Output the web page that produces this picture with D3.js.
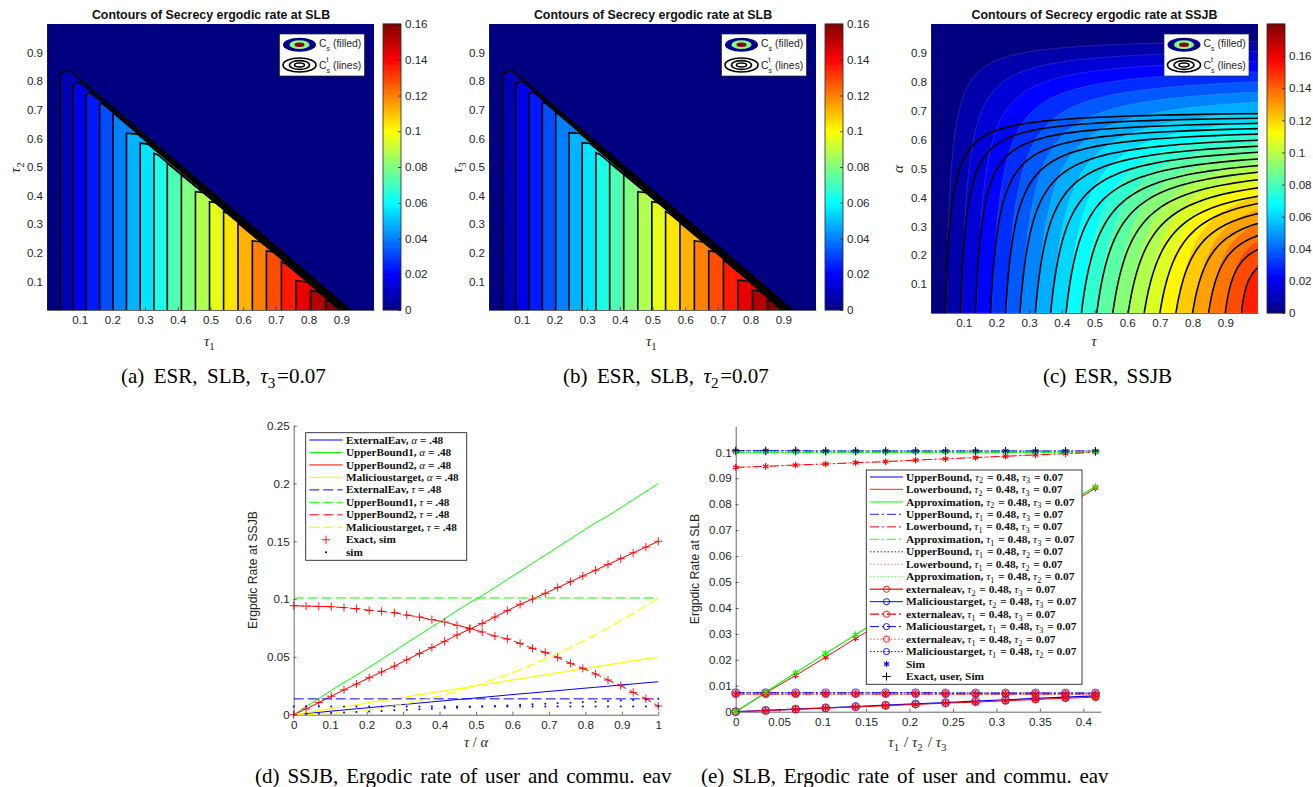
<!DOCTYPE html>
<html>
<head>
<meta charset="utf-8">
<script src="https://cdn.jsdelivr.net/npm/d3@7"></script>
<style>
  body { margin: 0; background: #fff; }
  text { font-family: "Liberation Sans", sans-serif; fill: #262626; }
</style>
</head>
<body>
<div id="fig"></div>
<script>
// (a) contour cuts read on the tau1 axis
var aCut = [.04,.08,.12,.161,.202,.243,.285,.327,.368,.411,.454,.497,.54,.584,.628,.671,.717,.761,.806,.852];
var aTop = [.827,.79,.755,.72,.685,.618,.583,.548,.513,.478,.414,.379,.344,.305,.242,.207,.169,.103,.068,.033];
var aPeakX = [.068,.101,.133,.169,.207,.277,.309,.339,.374,.414,.488,.521,.552,.59,.662,.695,.729,.795,.83,.864];
var aPeakY = [.839,.796,.76,.722,.685,.615,.58,.542,.507,.471,.409,.374,.337,.298,.237,.202,.162,.098,.063,.03];
var aEnd = [.929,.927,.926,.924,.922,.921,.919,.917,.915,.914,.912,.91,.909,.907,.905,.903,.902,.9,.898,.896];
var aLevels = [.008,.016,.024,.032,.04,.048,.056,.064,.072,.08,.088,.096,.104,.112,.12,.128,.136,.144,.152,.16];
// (b)
var bCut = [.041,.082,.122,.163,.204,.245,.285,.327,.369,.412,.455,.498,.54,.584,.628,.672,.717,.761,.806,.852];
var bTop = [.825,.793,.758,.723,.688,.62,.585,.55,.515,.48,.414,.379,.344,.306,.242,.207,.172,.105,.07,.035];
var bPeakX = [.069,.103,.135,.171,.209,.279,.309,.339,.375,.415,.489,.522,.552,.59,.662,.696,.729,.795,.83,.864];
var bPeakY = [.839,.799,.763,.725,.688,.617,.582,.544,.509,.473,.409,.374,.337,.299,.237,.202,.165,.1,.065,.032];
var bEnd = aEnd;
// (c) black line family: cut on tau axis, cut on right edge, knee bend
var cCut = [.044,.09,.136,.182,.228,.272,.319,.366,.413,.46,.507,.556,.603,.652,.7,.749,.8,.849,.9,.95];
var cEdge = [.69,.674,.656,.638,.619,.598,.577,.556,.533,.51,.487,.461,.433,.404,.379,.344,.31,.268,.22,.155];
var cBend = [.0175,.02,.023,.028,.033,.04,.045,.05,.055,.06,.062,.065,.068,.068,.065,.06,.055,.045,.032,.019];
// (c) filled family
var fillEdge = [.94,.905,.87,.835,.8,.765,.73,.695,.66,.625,.59,.555,.52,.485,.445,.405,.36,.31,.25,.17];
var fillBend = [.014,.02,.025,.03,.035,.04,.045,.05,.055,.06,.062,.065,.068,.068,.065,.06,.055,.045,.032,.02];
var cLevels = [.0076,.0152,.0228,.0304,.038,.0456,.0532,.0608,.0684,.076,.0836,.0912,.0988,.1064,.114,.1216,.1292,.1368,.1444,.152];

// (d)
var tauD = [0,.034,.069,.103,.138,.172,.207,.241,.276,.31,.345,.379,.414,.448,.483,.517,.552,.586,.621,.655,.69,.724,.759,.793,.828,.862,.897,.931,.966,1];
var ub1Alpha = [0,.007,.014,.021,.028,.034,.041,.048,.055,.062,.069,.076,.083,.09,.097,.103,.11,.117,.124,.131,.138,.145,.152,.159,.166,.172,.179,.186,.193,.2];
var ub2Alpha = [0,.005,.0105,.016,.0215,.0265,.032,.037,.042,.0475,.053,.058,.0635,.069,.074,.079,.0845,.09,.0955,.1,.105,.11,.115,.12,.125,.13,.135,.14,.145,.15];
var malAlpha = [0,.0017,.0035,.0052,.0069,.0086,.0104,.0121,.0138,.0155,.0173,.019,.0207,.0224,.0242,.0259,.0276,.0293,.031,.0328,.0345,.0362,.038,.0397,.0414,.0431,.0449,.0466,.0483,.0495];
var extAlpha = [0,.001,.002,.0031,.0041,.0051,.0061,.0071,.0081,.0091,.0101,.0111,.0121,.0131,.014,.015,.016,.017,.018,.0189,.0199,.0208,.0218,.0228,.0237,.0247,.0257,.0266,.0276,.0285];
var ub2Tau = [.0943,.094,.0937,.0934,.0926,.0917,.0903,.0894,.0882,.0862,.0845,.0822,.0802,.0773,.0747,.0715,.068,.0655,.0617,.0574,.0539,.0496,.0444,.0401,.0352,.03,.0251,.0193,.0138,.0075];
var malTau = [0,.0001,.0005,.0011,.0019,.003,.0043,.0059,.0077,.0097,.012,.0145,.0173,.0203,.0236,.027,.0308,.0347,.039,.0433,.0481,.0529,.0582,.0635,.0692,.075,.0813,.0875,.0942,.101];
var extTau = tauD.map(function(){ return .0137; });
var ub1Tau = tauD.map(function(){ return .101; });
var simFlat = [.0072,.0071,.0072,.0071,.0072,.0072,.0071,.0072,.0071,.0072,.0071,.0072,.0072,.0071,.0072,.0072,.0071,.0072,.0071,.0072,.0072,.0071,.0072,.0071,.0072,.0072,.0071,.0072,.0071,.0072];
var simRise = [0,.0005,.0009,.0014,.0019,.0024,.0028,.0033,.0038,.0042,.0047,.0052,.0057,.0061,.0066,.0071,.0076,.008,.0085,.009,.0094,.0099,.0104,.0109,.0113,.0118,.0123,.0128,.0132,.0137];
var legendD = ["ExternalEav, α = .48","UpperBound1, α = .48","UpperBound2, α = .48","Malicioustarget, α = .48","ExternalEav, τ = .48","UpperBound1, τ = .48","UpperBound2, τ = .48","Malicioustarget, τ = .48","Exact, sim","sim"];

// (e)
var tauE = [0,.0345,.069,.1035,.138,.1725,.207,.2415,.276,.3105,.345,.3795,.414];
var approxRise = [0,.0075,.015,.0225,.0297,.037,.0445,.052,.0595,.0665,.0725,.08,.0868];
var lowerRise = [0,.0072,.014,.021,.0283,.035,.0425,.05,.057,.064,.0715,.079,.0862];
var upperFlat = [.1006,.1006,.1006,.1005,.1005,.1005,.1005,.1005,.1005,.1005,.1005,.1005,.1005];
var approxFlat = [.1,.1,.1,.1,.1,.1,.1,.1,.1,.1,.1,.1,.1002];
var lowerFlat = [.0942,.0946,.0951,.0955,.096,.0964,.097,.0975,.098,.0985,.099,.0995,.1];
var malFlat = [.0073,.0073,.0073,.0073,.0073,.0073,.0073,.0072,.0072,.0072,.0072,.0072,.0072];
var extFlat = [.0068,.0068,.0068,.0068,.0068,.0068,.0068,.0068,.0068,.0068,.0068,.0068,.0068];
var malRise = [0,.0005,.001,.0015,.002,.0025,.003,.0035,.0041,.0046,.0051,.0056,.0061];
var extRise = [0,.0004,.0009,.0014,.0018,.0023,.0028,.0033,.0037,.0042,.0047,.0052,.0056];
var legendE = ["UpperBound, τ_2 = 0.48, τ_3 = 0.07","Lowerbound, τ_2 = 0.48, τ_3 = 0.07","Approximation, τ_2 = 0.48, τ_3 = 0.07",
  "UpperBound, τ_1 = 0.48, τ_3 = 0.07","Lowerbound, τ_1 = 0.48, τ_3 = 0.07","Approximation, τ_1 = 0.48, τ_3 = 0.07",
  "UpperBound, τ_1 = 0.48, τ_2 = 0.07","Lowerbound, τ_1 = 0.48, τ_2 = 0.07","Approximation, τ_1 = 0.48, τ_2 = 0.07",
  "externaleav, τ_2 = 0.48, τ_3 = 0.07","Malicioustarget, τ_2 = 0.48, τ_3 = 0.07","externaleav, τ_1 = 0.48, τ_3 = 0.07",
  "Malicioustarget, τ_1 = 0.48, τ_3 = 0.07","externaleav, τ_1 = 0.48, τ_2 = 0.07","Malicioustarget, τ_1 = 0.48, τ_2 = 0.07","Sim","Exact, user, Sim"];

var BLUE = "#0000ff", RED = "#ff0000", GREEN = "#00ff00", YELLOW = "#ffff00";
var DASH = "10,4", DASHDOT = "9,3,2,3", DOT = "1.5,2";
var TICK_FONT = "11.6px";

var jet = d3.scaleLinear()
  .domain([0, .125, .375, .625, .875, 1])
  .range(["#000080", "#0000ff", "#00ffff", "#ffff00", "#ff0000", "#800000"])
  .clamp(true);

var svg = d3.select("#fig").append("svg")
  .attr("width", 1313)
  .attr("height", 787)
  .style("display", "block");

var clipId = 0;

// mixed text: greek goes italic, "_n" goes down a bit
function richText(sel, str, size, weight) {
  var parts = str.split(/(τ_\d|τ|α)/).filter(function(d){ return d !== ""; });
  parts.forEach(function(p) {
    var greek = p[0] == "τ" || p[0] == "α";
    sel.append("tspan")
      .style("font-style", greek ? "italic" : "normal")
      .style("font-weight", greek ? "normal" : weight)
      .text(greek ? p[0] : p);
    if (p[1] == "_") {
      sel.append("tspan")
        .attr("dy", size * .25)
        .style("font-size", (size * .72) + "px")
        .text(p[2]);
      sel.append("tspan").attr("dy", -size * .25).text("\u200a");
    }
  });
}

function plotAxes(g, x, y, xt, yt) {
  var bottom = g.append("g")
    .attr("transform", "translate(0," + y.range()[0] + ")")
    .call(d3.axisBottom(x).tickValues(xt).tickSizeInner(-3).tickSizeOuter(0).tickPadding(6).tickFormat(d3.format("~g")));
  var left = g.append("g")
    .attr("transform", "translate(" + x.range()[0] + ",0)")
    .call(d3.axisLeft(y).tickValues(yt).tickSizeInner(-3).tickSizeOuter(0).tickPadding(4).tickFormat(d3.format("~g")));
  [bottom, left].forEach(function(a) {
    a.selectAll("text").style("font-size", TICK_FONT).style("font-family", "Liberation Sans").attr("fill", "#262626");
    a.selectAll("line,path").attr("stroke", "#262626").attr("stroke-width", .7);
  });
}

function clipped(g, x, y) {
  var id = "clip" + (clipId++);
  g.append("clipPath").attr("id", id).append("rect")
    .attr("x", x.range()[0]).attr("y", y.range()[1])
    .attr("width", x.range()[1] - x.range()[0])
    .attr("height", y.range()[0] - y.range()[1]);
  return g.append("g").attr("clip-path", "url(#" + id + ")");
}

function colorbar(x0, y0, y1, maxV) {
  var w = 18, g = svg.append("g");
  var s = d3.scaleLinear().domain([0, maxV]).range([y1, y0]);
  g.selectAll("rect.c").data(d3.range(128)).enter().append("rect")
    .attr("x", x0)
    .attr("y", function(i){ return s((i + 1) / 128 * maxV) - .3; })
    .attr("width", w)
    .attr("height", (y1 - y0) / 128 + .6)
    .attr("fill", function(i){ return jet((i + .5) / 128); });
  g.append("rect").attr("x", x0).attr("y", y0).attr("width", w).attr("height", y1 - y0)
    .attr("fill", "none").attr("stroke", "#262626").attr("stroke-width", .8);
  var ax = g.append("g").attr("transform", "translate(" + (x0 + w) + ",0)")
    .call(d3.axisRight(s).tickValues([0,.02,.04,.06,.08,.1,.12,.14,.16]).tickSizeInner(-3).tickSizeOuter(0).tickPadding(4).tickFormat(d3.format("~g")));
  ax.select("path").remove();
  ax.selectAll("line").attr("stroke", "#262626").attr("stroke-width", .8);
  ax.selectAll("text").style("font-size", TICK_FONT).style("font-family", "Liberation Sans").attr("fill", "#262626");
}

function contourKey(x0) {
  var g = svg.append("g").attr("transform", "translate(" + x0 + ",34)");
  g.append("rect").attr("width", 85).attr("height", 42).attr("fill", "#fff").attr("stroke", "#262626").attr("stroke-width", .7);
  [[16.5, 7, "#00008c"], [10, 4.4, "#80ff80"], [5, 2.2, "#8c0000"]].forEach(function(e) {
    g.append("ellipse").attr("cx", 20).attr("cy", 10.7).attr("rx", e[0]).attr("ry", e[1]).attr("fill", e[2]);
  });
  [[16.5, 7], [10, 4.4], [5, 2]].forEach(function(e) {
    g.append("ellipse").attr("cx", 20).attr("cy", 31).attr("rx", e[0]).attr("ry", e[1]).attr("fill", "none").attr("stroke", "#000").attr("stroke-width", 1.6);
  });
  var a = g.append("text").attr("x", 39.5).attr("y", 13).style("font-size", "10.4px");
  a.append("tspan").text("C");
  a.append("tspan").attr("dy", 4).style("font-size", "7px").text("s");
  a.append("tspan").attr("dy", -4).attr("dx", 3).text("(filled)");
  var b = g.append("text").attr("x", 39.5).attr("y", 35).style("font-size", "10.4px");
  b.append("tspan").text("C");
  b.append("tspan").attr("dy", 4).style("font-size", "7px").text("s");
  b.append("tspan").attr("dy", -4).attr("dx", 3).text("(lines)");
  g.append("text").attr("x", 47).attr("y", 27.5).style("font-size", "7px").text("t");
}

function panelTitle(cx, str) {
  svg.append("text").attr("x", cx).attr("y", 19).attr("text-anchor", "middle")
    .style("font-size", "12.4px").style("font-weight", "bold").style("fill", "#111").text(str);
}

function mathLabel(x, y, str, size, rot) {
  var t = svg.append("text").attr("text-anchor", "middle")
    .attr("transform", "translate(" + x + "," + y + ")" + (rot ? " rotate(-90)" : ""))
    .style("font-family", "Liberation Serif").style("font-size", size + "px");
  richText(t, str, size, "normal");
}

function caption(at, str, gap) {
  var size = 21;
  var t = svg.append("text").attr("x", at[0]).attr("y", at[1])
    .style("font-family", "Liberation Serif").style("font-size", size + "px")
    .style("fill", "#000").style("word-spacing", gap + "px");
  richText(t, str, size, "normal");
}

function trianglePanel(x0, cut, top, peakX, peakY, end, xl, yl, title, captionAt, captionStr) {
  var g = svg.append("g");
  var x = d3.scaleLinear().domain([0, 1]).range([x0, x0 + 327]);
  var y = d3.scaleLinear().domain([0, 1]).range([310, 24]);
  var c = clipped(g, x, y);
  c.append("rect").attr("x", x0).attr("y", 24).attr("width", 327).attr("height", 286).attr("fill", jet(0));
  var line = d3.line().x(function(d){ return x(d[0]); }).y(function(d){ return y(d[1]); });
  var paths = cut.map(function(d, i) {
    return [[d, -.02], [d, top[i]], [peakX[i], peakY[i]], [end[i], 0], [end[i], -.02]];
  });
  c.selectAll("path.f").data(paths).enter().append("path")
    .attr("d", function(d){ return line(d) + "Z"; })
    .attr("fill", function(d, i){ return jet(aLevels[i] / .16); });
  c.selectAll("path.s").data(paths).enter().append("path")
    .attr("d", function(d){ return line(d); })
    .attr("fill", "none").attr("stroke", "#000").attr("stroke-width", 1.6);
  var t = d3.range(1, 10).map(function(d){ return d / 10; });
  plotAxes(g, x, y, t, t);
  colorbar(x0 + 336, 24, 310, .16);
  contourKey(x0 + 232.5);
  panelTitle(x0 + 164, title);
  mathLabel(x0 + 163, 346, xl, 15);
  mathLabel(x0 - 27, 167, yl, 15, true);
  caption(captionAt, captionStr, 4.2);
}

trianglePanel(47, aCut, aTop, aPeakX, aPeakY, aEnd, "τ_1", "τ_2", "Contours of Secrecy ergodic rate at SLB", [121, 383], "(a) ESR, SLB, τ_3=0.07");
trianglePanel(489, bCut, bTop, bPeakX, bPeakY, bEnd, "τ_1", "τ_3", "Contours of Secrecy ergodic rate at SLB", [563, 383], "(b) ESR, SLB, τ_2=0.07");

// (c)
(function() {
  var g = svg.append("g");
  var x = d3.scaleLinear().domain([0, 1]).range([931, 1258]);
  var y = d3.scaleLinear().domain([0, 1]).range([313, 24]);
  var c = clipped(g, x, y);
  c.append("rect").attr("x", 931).attr("y", 24).attr("width", 327).attr("height", 289).attr("fill", jet(0));
  var line = d3.line().x(function(d){ return x(d[0]); }).y(function(d){ return y(d[1]); });
  function knee(cut, edge, bend) {
    var A = edge * (1 - cut + bend) / (1 - cut);
    return d3.range(0, 51).map(function(s) {
      var u = (1 - cut) * Math.pow(s / 50, 3);
      return [cut + u, A * u / (u + bend)];
    });
  }
  var fills = fillEdge.map(function(d, i){ return knee(cCut[i] + .003, d, fillBend[i]); });
  c.selectAll("path.f").data(fills).enter().append("path")
    .attr("d", function(d){ return line(d.concat([[1, 0]])) + "Z"; })
    .attr("fill", function(d, i){ return jet(cLevels[i] / .18); })
    .attr("stroke", "#fff").attr("stroke-opacity", .25).attr("stroke-width", .5);
  var lines = cCut.map(function(d, i){ return knee(d, cEdge[i], cBend[i]); });
  c.selectAll("path.s").data(lines).enter().append("path")
    .attr("d", line).attr("fill", "none").attr("stroke", "#000").attr("stroke-width", 1.6);
  var t = d3.range(1, 10).map(function(d){ return d / 10; });
  plotAxes(g, x, y, t, t);
  colorbar(1267, 24, 313, .18);
  contourKey(1164);
  panelTitle(1094.5, "Contours of Secrecy ergodic rate at SSJB");
  mathLabel(1094, 346, "τ", 15);
  mathLabel(903, 169, "α", 15, true);
  caption([1043, 383], "(c) ESR, SSJB", 3);
})();

function legendBox(x0, y0, w, h, rows, rowY, textX, labels, size) {
  var g = svg.append("g").attr("transform", "translate(" + x0 + "," + y0 + ")");
  g.append("rect").attr("width", w).attr("height", h).attr("fill", "#fff").attr("stroke", "#262626").attr("stroke-width", .9);
  labels.forEach(function(str, i) {
    var t = g.append("text").attr("x", textX).attr("y", rowY + i * rows + 3.6)
      .style("font-family", "Liberation Serif").style("font-size", size + "px").style("fill", "#111");
    richText(t, str, size, "bold");
  });
  return g;
}

function legendKey(g, i, rowY, rows, lineX, lineW, s) {
  var yy = rowY + i * rows;
  if (s.color2 !== undefined) {
    g.append("path").attr("d", d3.symbol(s.sym, s.size)()).attr("transform", "translate(" + (lineX + lineW / 2) + "," + yy + ")")
      .attr("fill", s.fill || "none").attr("stroke", s.color2).attr("stroke-width", .9);
  }
  if (s.color) {
    g.append("line").attr("x1", lineX).attr("x2", lineX + lineW).attr("y1", yy).attr("y2", yy)
      .attr("stroke", s.color).attr("stroke-width", s.w || 1).attr("stroke-dasharray", s.dash || null).attr("stroke-opacity", s.o || 1);
  }
}

// (d)
(function() {
  var g = svg.append("g");
  var x = d3.scaleLinear().domain([0, 1]).range([293.7, 658.3]);
  var y = d3.scaleLinear().domain([0, .25]).range([714.7, 425.7]);
  var line = d3.line().x(function(d){ return x(d[0]); }).y(function(d){ return y(d[1]); });
  plotAxes(g, x, y, d3.range(0, 11).map(function(d){ return d / 10; }), [0, .05, .1, .15, .2, .25]);
  var series = [
    [extAlpha, BLUE, null], [ub1Alpha, GREEN, null], [ub2Alpha, RED, null], [malAlpha, YELLOW, null],
    [extTau, BLUE, DASH], [ub1Tau, GREEN, DASH], [ub2Tau, RED, DASH], [malTau, YELLOW, DASH]
  ];
  series.forEach(function(s) {
    g.append("path").datum(d3.zip(tauD, s[0])).attr("d", line).attr("fill", "none")
      .attr("stroke", s[1]).attr("stroke-width", s[1] == YELLOW ? 1.2 : 1).attr("stroke-dasharray", s[2]);
  });
  [ub2Alpha, ub2Tau].forEach(function(v) {
    g.selectAll(null).data(d3.zip(tauD, v)).enter().append("path")
      .attr("d", d3.symbol(d3.symbolPlus, 24)())
      .attr("transform", function(d){ return "translate(" + x(d[0]) + "," + y(d[1]) + ")"; })
      .attr("fill", "none").attr("stroke", RED).attr("stroke-width", .9);
  });
  [simFlat, simRise].forEach(function(v) {
    g.selectAll(null).data(d3.zip(tauD, v)).enter().append("circle")
      .attr("cx", function(d){ return x(d[0]); }).attr("cy", function(d){ return y(d[1]); })
      .attr("r", 1).attr("fill", BLUE);
  });
  var lg = legendBox(305.7, 432.7, 161, 127.6, 12.47, 7.3, 40.3, legendD, 11.2);
  series.forEach(function(s, i) {
    legendKey(lg, i, 7.3, 12.47, 3.6, 33.4, {color: s[1], dash: s[2], w: s[1] == YELLOW ? 1.2 : 1});
  });
  lg.append("path").attr("d", d3.symbol(d3.symbolPlus, 24)()).attr("transform", "translate(20.3," + (7.3 + 8 * 12.47) + ")").attr("fill", "none").attr("stroke", RED).attr("stroke-width", .9);
  lg.append("circle").attr("cx", 20.3).attr("cy", 7.3 + 9 * 12.47).attr("r", 1.1).attr("fill", BLUE);
  svg.append("text").attr("text-anchor", "middle").attr("transform", "translate(257,570) rotate(-90)").style("font-size", "12.2px").text("Ergpdic Rate at SSJB");
  mathLabel(476, 747, "τ / α", 14.5);
  caption([255, 783], "(d) SSJB, Ergodic rate of user and commu. eav", 2.7);
})();

// (e)
(function() {
  var g = svg.append("g");
  var x = d3.scaleLinear().domain([0, .42]).range([735.7, 1100.7]);
  var y = d3.scaleLinear().domain([0, .11]).range([711.7, 426.4]);
  var line = d3.line().x(function(d){ return x(d[0]); }).y(function(d){ return y(d[1]); });
  plotAxes(g, x, y, d3.range(0, 9).map(function(d){ return d * .05; }), d3.range(0, 11).map(function(d){ return d / 100; }));
  var series = [
    [malFlat, BLUE, DOT, 1], [extFlat, RED, DOT, 1],
    [upperFlat, BLUE, DOT, 1], [lowerFlat, RED, DOT, .6], [approxFlat, GREEN, DOT, 1],
    [malRise, BLUE, null, 1.2], [extRise, RED, null, 1],
    [lowerRise, RED, null, 1], [approxRise, GREEN, null, 1.1],
    [upperFlat, BLUE, DASHDOT, 1.1], [approxFlat, GREEN, DASHDOT, 1.1], [lowerFlat, RED, DASHDOT, 1],
    [malFlat, BLUE, DASHDOT, 1.2], [extFlat, RED, DASHDOT, 1]
  ];
  series.forEach(function(s) {
    g.append("path").datum(d3.zip(tauE, s[0])).attr("d", line).attr("fill", "none")
      .attr("stroke", s[1]).attr("stroke-width", s[3]).attr("stroke-dasharray", s[2]);
  });
  function marks(v, sym, size, color, w) {
    g.selectAll(null).data(d3.zip(tauE, v)).enter().append("path")
      .attr("d", d3.symbol(sym, size)())
      .attr("transform", function(d){ return "translate(" + x(d[0]) + "," + y(d[1]) + ")"; })
      .attr("fill", "none").attr("stroke", color).attr("stroke-width", w || .9);
  }
  marks(malFlat, d3.symbolCircle, 50, "#2a2aff");
  marks(malRise, d3.symbolCircle, 50, "#2a2aff");
  marks(extFlat, d3.symbolCircle, 40, RED);
  marks(extRise, d3.symbolCircle, 40, RED);
  marks(extFlat, d3.symbolAsterisk, 30, RED, 1.3);
  marks(extRise, d3.symbolAsterisk, 30, RED, 1.3);
  marks(lowerRise, d3.symbolAsterisk, 30, RED, 1.2);
  marks(lowerFlat, d3.symbolAsterisk, 30, RED, 1.2);
  marks(approxRise, d3.symbolAsterisk, 30, GREEN, 1.2);
  marks(upperFlat, d3.symbolAsterisk, 30, BLUE, 1.2);
  marks(approxFlat, d3.symbolAsterisk, 30, GREEN, 1.2);
  marks(upperFlat, d3.symbolPlus, 24, "#000");
  var lg = legendBox(866.3, 470, 215.7, 214.3, 12.47, 7, 39.7, legendE, 11.4);
  var keys = [
    {color: BLUE, w: 1}, {color: RED, w: 1.3, o: .7}, {color: GREEN, w: 1},
    {color: BLUE, dash: DASHDOT, w: 1.3, o: .7}, {color: RED, dash: DASHDOT, w: 1}, {color: GREEN, dash: DASHDOT, w: 1.3, o: .7},
    {color: BLUE, dash: DOT, w: .9}, {color: RED, dash: DOT, w: 1, o: .5}, {color: GREEN, dash: DOT, w: .9, o: .8},
    {color: RED, w: 1.3, o: .8, sym: d3.symbolCircle, size: 30, color2: RED}, {color: BLUE, w: 1, sym: d3.symbolCircle, size: 30, color2: BLUE},
    {color: RED, dash: DASHDOT, w: 1.1, sym: d3.symbolCircle, size: 30, color2: RED}, {color: BLUE, dash: DASHDOT, w: 1, sym: d3.symbolCircle, size: 30, color2: BLUE},
    {color: RED, dash: DOT, w: 1, o: .7, sym: d3.symbolCircle, size: 30, color2: RED}, {color: BLUE, dash: DOT, w: 1, sym: d3.symbolCircle, size: 30, color2: BLUE}
  ];
  keys.forEach(function(k, i) { legendKey(lg, i, 7, 12.47, 3.7, 33, k); });
  lg.append("path").attr("d", d3.symbol(d3.symbolAsterisk, 26)()).attr("transform", "translate(20.2," + (7 + 15 * 12.47) + ")").attr("fill", "none").attr("stroke", BLUE).attr("stroke-width", 1.2);
  lg.append("path").attr("d", d3.symbol(d3.symbolPlus, 24)()).attr("transform", "translate(20.2," + (7 + 16 * 12.47) + ")").attr("fill", "none").attr("stroke", "#000").attr("stroke-width", 1);
  svg.append("text").attr("text-anchor", "middle").attr("transform", "translate(699,569) rotate(-90)").style("font-size", "12.2px").text("Ergpdic Rate at SLB");
  mathLabel(918, 747, "τ_1 / τ_2 / τ_3", 15);
  caption([701, 783], "(e) SLB, Ergodic rate of user and commu. eav", 2.6);
})();
</script>
</body>
</html>
